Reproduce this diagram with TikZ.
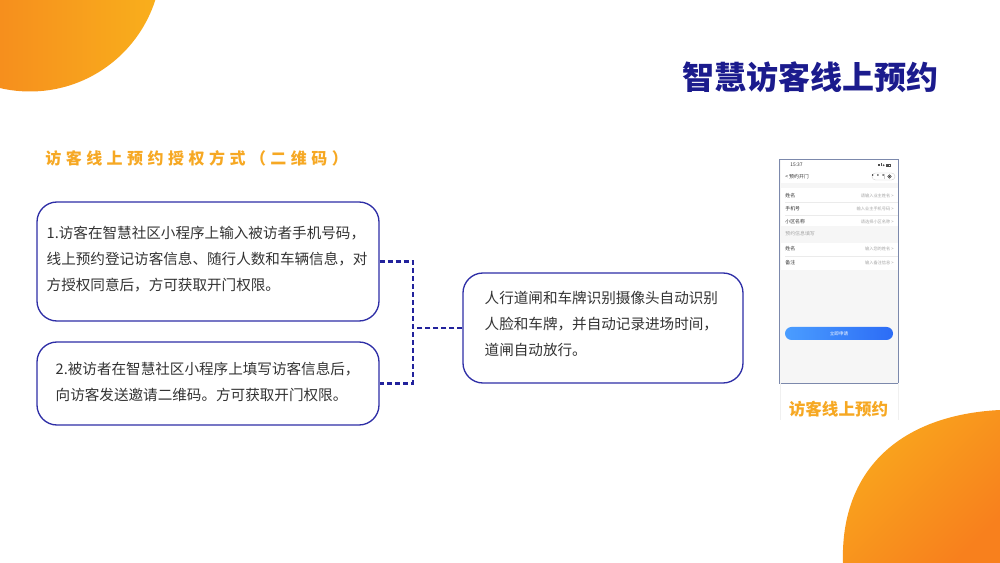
\documentclass[tikz,border=0pt]{standalone}
\usepackage{fontspec}
\setmainfont{Noto Sans CJK SC}
\newfontfamily\spacedfont[LetterSpace=28]{Noto Sans CJK SC}
\definecolor{navy}{HTML}{1B1B8D}
\definecolor{boxline}{HTML}{2E2EA6}
\definecolor{linkline}{HTML}{22229C}
\definecolor{amber}{HTML}{F6A823}
\definecolor{orangeL}{HTML}{F47A1E}
\definecolor{orangeR}{HTML}{F9B01C}
\definecolor{blobL}{HTML}{F9A91D}
\definecolor{blobR}{HTML}{F8801D}
\definecolor{textgray}{HTML}{333333}
\definecolor{phoneline}{HTML}{7C89AC}
\definecolor{phonebg}{HTML}{F6F6F6}
\definecolor{btnL}{HTML}{4A9DFF}
\definecolor{btnR}{HTML}{2C6CF6}

\begin{document}
\begin{tikzpicture}[scale=1,
	infobox/.style={draw=boxline, line width=0.75pt, rounded corners=0.4cm, fill=white, inner sep=0pt, minimum width=6.84cm},
	boxtext/.style={anchor=west, align=left, inner sep=0pt, text=textgray, font=\fontsize{8.3}{14.8}\selectfont},
	link/.style={draw=linkline, line width=1.3pt, dash pattern=on 0.1cm off 0.06cm},
	rowlabel/.style={anchor=west, inner sep=0pt, font=\fontsize{2.8}{3}\selectfont, text=black!80},
	rowhint/.style={anchor=east, inner sep=0pt, font=\fontsize{2.4}{3}\selectfont, text=black!35}]
				\useasboundingbox (0.00, 0.00) rectangle (20.00, 11.26);
				\begin{scope}
				\clip (0.00, 0.00) rectangle (20.00, 11.26);
				\shade[left color=orangeL, right color=orangeR] (0.60, 12.06) circle (2.63);
				\shade[top color=blobL, bottom color=blobR, shading angle=45] (16.86, 0.00) .. controls (16.80, 1.86) and (18.00, 2.96) .. (20.00, 3.06) -- (20.00, 0.00) -- cycle;
				\end{scope}

				\node[font=\fontsize{18.2}{20}\selectfont\bfseries, text=navy, inner sep=0pt] (title) at (16.21, 9.72) {智慧访客线上预约};
				\node[anchor=west, font=\fontsize{9.1}{10}\selectfont\spacedfont\bfseries, text=amber, inner sep=0pt] (subtitle) at (0.90, 8.10) {访客线上预约授权方式（二维码）};

				\node[infobox, minimum height=2.38cm] (box1) at (4.16, 6.03) {};
				\node[infobox, minimum height=1.66cm] (box2) at (4.16, 3.59) {};
				\node[infobox, minimum width=5.60cm, minimum height=2.20cm] (box3) at (12.06, 4.70) {};
				\node[boxtext] (text1) at ([xshift=0.20cm, yshift=0.04cm]box1.west) {1.访客在智慧社区小程序上输入被访者手机号码，\\线上预约登记访客信息、随行人数和车辆信息，对\\方授权同意后，方可获取开门权限。};
				\node[boxtext] (text2) at ([xshift=0.38cm, yshift=0.04cm]box2.west) {2.被访者在智慧社区小程序上填写访客信息后，\\向访客发送邀请二维码。方可获取开门权限。};
				\node[boxtext] (text3) at ([xshift=0.44cm, yshift=0.08cm]box3.west) {人行道闸和车牌识别摄像头自动识别\\人脸和车牌，并自动记录进场时间，\\道闸自动放行。};

				\coordinate (joint) at ([xshift=0.66cm]box1.east);
				\draw[link] (box1.east) -- (joint) |- (box2.east);
				\draw[link] (box3.west) -- (box3.west -| joint);

				\node[fill=phonebg, minimum width=2.36cm, minimum height=4.46cm, inner sep=0pt] (phone) at (16.78, 5.83) {};
				\fill[white] (15.61, 8.05) rectangle (17.95, 7.60);
				\fill[white] (15.61, 7.50) rectangle (17.95, 6.74);
				\fill[white] (15.61, 6.40) rectangle (17.95, 5.86);
				\draw[black!8, line width=0.2pt] (15.70, 7.21) -- (17.95, 7.21);
				\draw[black!8, line width=0.2pt] (15.70, 6.95) -- (17.95, 6.95);
				\draw[black!8, line width=0.2pt] (15.70, 6.14) -- (17.95, 6.14);
				\node[rowlabel] (clock) at (15.80, 7.96) {15:37};
				\fill[black!70] (17.56, 7.94) rectangle (17.575, 7.97);
				\fill[black!70] (17.585, 7.94) rectangle (17.60, 7.985);
				\fill[black!70] (17.61, 7.94) rectangle (17.625, 8.00);
				\fill[black!70] (17.67, 7.955) circle (0.02);
				\draw[black!70, line width=0.2pt] (17.72, 7.935) rectangle (17.80, 7.985);
				\fill[black!70] (17.725, 7.94) rectangle (17.775, 7.98);
				\node[rowlabel] (header) at (15.70, 7.72) {<\ 预约开门};
				\draw[black!20, line width=0.2pt, rounded corners=0.07cm] (17.44, 7.66) rectangle (17.90, 7.80);
				\draw[black!20, line width=0.2pt] (17.68, 7.68) -- (17.68, 7.78);
				\node[inner sep=0pt, font=\fontsize{3}{3}\selectfont\bfseries] (dots) at (17.56, 7.73) {···};
				\draw[black!80, line width=0.3pt] (17.79, 7.73) circle (0.035);
				\fill[black!80] (17.79, 7.73) circle (0.012);
				\node[rowlabel] (row1) at (15.70, 7.34) {姓名};
				\node[rowhint] (hint1) at (17.88, 7.34) {请输入业主姓名 >};
				\node[rowlabel] (row2) at (15.70, 7.08) {手机号};
				\node[rowhint] (hint2) at (17.88, 7.08) {输入业主手机号码 >};
				\node[rowlabel] (row3) at (15.70, 6.82) {小区名称};
				\node[rowhint] (hint3) at (17.88, 6.82) {请选择小区名称 >};
				\node[rowlabel, text=black!35] (section) at (15.70, 6.59) {预约信息填写};
				\node[rowlabel] (row4) at (15.70, 6.28) {姓名};
				\node[rowhint] (hint4) at (17.88, 6.28) {输入您的姓名 >};
				\node[rowlabel] (row5) at (15.70, 6.00) {备注};
				\node[rowhint] (hint5) at (17.88, 6.00) {输入备注信息 >};
				\node[rounded corners=0.13cm, minimum width=2.16cm, minimum height=0.26cm, left color=btnL, right color=btnR, inner sep=0pt, text=white, font=\fontsize{2.6}{3}\selectfont] (apply) at (16.78, 4.59) {立即申请};
				\draw[phoneline, line width=0.6pt] (phone.south west) rectangle (phone.north east);

				\draw[black!6, line width=0.4pt] (15.60, 3.60) -- (15.60, 2.86);
				\draw[black!6, line width=0.4pt] (17.96, 3.60) -- (17.96, 2.86);
				\node[font=\fontsize{9.4}{10}\selectfont\bfseries, text=amber, inner sep=0pt] (caption) at (16.77, 3.08) {访客线上预约};
			\end{tikzpicture}
\end{document}
